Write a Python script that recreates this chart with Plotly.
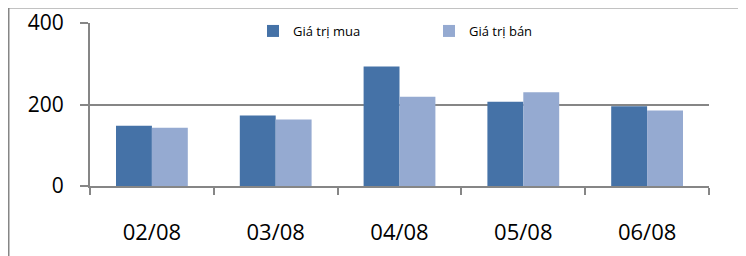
import plotly.graph_objects as go

categories = ["02/08", "03/08", "04/08", "05/08", "06/08"]
buy_values = [148, 173, 293, 207, 196]
sell_values = [143, 163, 219, 230, 185]
series_names = ["Giá trị mua", "Giá trị bán"]
y_ticks = [0, 200, 400]

dark = "#4572A7"
light = "#95AAD1"
grey = "#868686"

fig = go.Figure()
fig.add_trace(go.Bar(x=categories, y=buy_values, name=series_names[0],
                     marker=dict(color=dark, line=dict(width=0))))
fig.add_trace(go.Bar(x=categories, y=sell_values, name=series_names[1],
                     marker=dict(color=light, line=dict(width=0))))

# figure sits 8px in from the page edge (browser body margin)
W, H = 738, 248
L, R, T, B = 82, 37, 15, 70
pw = W - L - R
ph = H - T - B

fig.update_layout(
    width=W, height=H,
    margin=dict(l=L, r=R, t=T, b=B, pad=0, autoexpand=False),
    paper_bgcolor="white", plot_bgcolor="white",
    barmode="group", bargap=0.42, bargroupgap=0,
    font=dict(family="Open Sans", color="black"),
    showlegend=True,
    legend=dict(orientation="h", x=(245 - L) / pw, y=(H - B - 23) / ph,
                xanchor="left", yanchor="middle",
                entrywidth=131, entrywidthmode="pixels",
                font=dict(size=13, family="Open Sans"),
                bgcolor="rgba(0,0,0,0)", itemwidth=30,
                tracegroupgap=0),
    xaxis=dict(showline=True, linecolor=grey, linewidth=2,
               ticks="outside", ticklen=7, tickcolor=grey, tickwidth=1.5,
               tickson="boundaries", showgrid=False,
               tickfont=dict(size=22, family="Open Sans"),
               ticklabelstandoff=26),
    yaxis=dict(range=[0, 400], tickvals=y_ticks, showline=True,
               linecolor=grey, linewidth=2, ticks="outside", ticklen=8,
               tickcolor=grey, tickwidth=1.5, showgrid=True, gridcolor=grey,
               gridwidth=1.5, zeroline=False,
               tickfont=dict(size=21, family="Open Sans"),
               ticklabelstandoff=12),
)

fig.add_shape(type="rect", xref="paper", yref="paper",
              x0=(0.5 - L) / pw, x1=(W + 20 - L) / pw,
              y0=(H - B - H - 20) / ph, y1=(H - B + 0.5) / ph,
              line=dict(color=grey, width=2), layer="below")

fig.write_html("out.html")
